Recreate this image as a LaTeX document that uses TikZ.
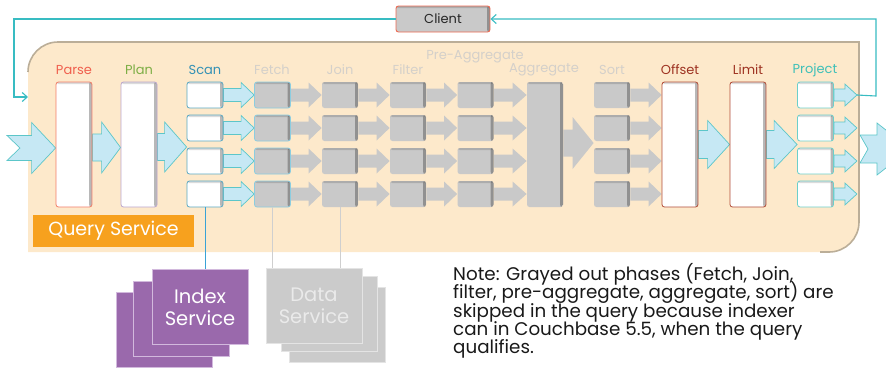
\documentclass[tikz,border=0pt]{standalone}
\usepackage{fontspec}
\setmainfont{Poppins}
\usetikzlibrary{arrows.meta,calc}

\pgfdeclarelayer{panel}
\pgfdeclarelayer{flow}
\pgfsetlayers{panel,flow,main}

\definecolor{panelfill}{HTML}{FDE9CB}
\definecolor{panelshade}{HTML}{BBAE98}
\definecolor{flowfill}{HTML}{C6E8F4}
\definecolor{flowline}{HTML}{5CC6C9}
\definecolor{loopline}{HTML}{38BCC2}
\definecolor{skipfill}{HTML}{C9C9C9}
\definecolor{skiptext}{HTML}{D4D0CA}
\definecolor{parsecol}{HTML}{F0604E}
\definecolor{parseborder}{HTML}{F27C66}
\definecolor{plancol}{HTML}{7DAE45}
\definecolor{planborder}{HTML}{BBA6CC}
\definecolor{scancol}{HTML}{3491B5}
\definecolor{scanborder}{HTML}{5AA8C2}
\definecolor{fetchborder}{HTML}{8CCDE0}
\definecolor{offcol}{HTML}{9E3322}
\definecolor{offborder}{HTML}{B24C36}
\definecolor{projcol}{HTML}{3FC0B8}
\definecolor{projborder}{HTML}{6CCFCB}
\definecolor{qsorange}{HTML}{F7A11E}
\definecolor{idxpurple}{HTML}{9A69AC}
\definecolor{idxedge}{HTML}{D2B9DD}
\definecolor{datafill}{HTML}{CBCBCB}
\definecolor{dataedge}{HTML}{E4E4E4}
\definecolor{datatext}{HTML}{EAEAEA}
\definecolor{clientborder}{HTML}{EC6A52}
\definecolor{idxline}{HTML}{3AA3D6}
\definecolor{dataline}{HTML}{CFCFCF}

% block arrow: [style]{from}{to}{shaft half}{head half}{head length}
\newcommand{\blockarrow}[6][]{%
  \path[#1] let \p1=(#2), \p2=(#3) in
    (\x1,\y1+#4) -- (\x2-#6,\y1+#4) -- (\x2-#6,\y1+#5) -- (\x2,\y1)
    -- (\x2-#6,\y1-#5) -- (\x2-#6,\y1-#4) -- (\x1,\y1-#4) -- cycle;}
% block arrow with a notched tail: extra {notch depth}
\newcommand{\notcharrow}[7][]{%
  \path[#1] let \p1=(#2), \p2=(#3) in
    (\x1,\y1+#4) -- (\x2-#6,\y1+#4) -- (\x2-#6,\y1+#5) -- (\x2,\y1)
    -- (\x2-#6,\y1-#5) -- (\x2-#6,\y1-#4) -- (\x1,\y1-#4) -- (\x1+#7,\y1) -- cycle;}

\begin{document}
\begin{tikzpicture}[x=1pt,y=-1pt,
  inset/.style={path picture={
      \fill[black,opacity=.28] ([xshift=-3pt]path picture bounding box.north east)
        rectangle (path picture bounding box.south east);
      \fill[black,opacity=.14] (path picture bounding box.north west)
        rectangle ([yshift=-2pt]path picture bounding box.north east);}},
  box/.style={rectangle, rounded corners=2.5pt, inner sep=0pt, line width=0.8pt,
      minimum width=36pt, minimum height=26pt, inset},
  tallbox/.style={box, minimum height=125pt},
  livebox/.style={box, fill=white},
  skipbox/.style={box, fill=skipfill},
  lbl/.style={font=\fontsize{13}{15}\selectfont, inner sep=0pt},
  flowarrow/.style={fill=flowfill, draw=flowline, line width=0.7pt, line join=miter},
  skiparrow/.style={fill=skipfill},
  loop/.style={draw=loopline, line width=1.1pt,
      -{Straight Barb[length=5pt,width=9pt,line width=1.1pt]}},
  stackidx/.style={rectangle, fill=idxpurple, draw=idxedge, line width=0.6pt,
      minimum width=96pt, minimum height=75pt, inner sep=0pt},
  stackdata/.style={rectangle, fill=datafill, draw=dataedge, line width=0.6pt,
      minimum width=96pt, minimum height=75pt, inner sep=0pt},
  svctext/.style={font=\fontsize{19.5}{22}\selectfont, align=center}
]
\useasboundingbox (0,0) rectangle (886,368);

% query service panel
\begin{pgfonlayer}{panel}
  \fill[panelfill] (28,252) [rounded corners=30pt] -- (28,42) [sharp corners]
    -- (859,42) [rounded corners=30pt] -- (859,252) [sharp corners] -- cycle;
  \draw[panelshade, line width=1.6pt] (28,72) [rounded corners=30pt] -- (28,42)
    [sharp corners] -- (859,42) [rounded corners=30pt] -- (859,252) [sharp corners] -- (820,252);
\end{pgfonlayer}

% client
\node[rectangle, rounded corners=2.5pt, fill=skipfill, draw=clientborder, line width=0.9pt,
  minimum width=94pt, minimum height=26pt, inset, font=\fontsize{13}{15}\selectfont,
  text=black!85] (client) at (443,19) {Client};

% phase labels
\node[lbl, text=parsecol] (lparse) at (74,70) {Parse};
\node[lbl, text=plancol] (lplan) at (139,70) {Plan};
\node[lbl, text=scancol] (lscan) at (205,70) {Scan};
\node[lbl, text=skiptext] (lfetch) at (272,70) {Fetch};
\node[lbl, text=skiptext] (ljoin) at (340,70) {Join};
\node[lbl, text=skiptext] (lfilter) at (408,70) {Filter};
\node[lbl, text=skiptext] (lpre) at (475,57) {Pre-Aggregate};
\node[lbl, text=skiptext] (lagg) at (544,70) {Aggregate};
\node[lbl, text=skiptext] (lsort) at (612,70) {Sort};
\node[lbl, text=offcol] (loffset) at (680,70) {Offset};
\node[lbl, text=offcol] (llimit) at (748,70) {Limit};
\node[lbl, text=projcol] (lproject) at (815,70) {Project};

% tall phase boxes
\node[tallbox, fill=white, draw=parseborder] (parse) at (74,144.5) {};
\node[tallbox, fill=white, draw=planborder] (plan) at (139,144.5) {};
\node[tallbox, fill=skipfill] (agg) at (545,144.5) {};
\node[tallbox, fill=white, draw=offborder] (off) at (680,144.5) {};
\node[tallbox, fill=white, draw=offborder] (lim) at (748,144.5) {};

% per-row phase boxes
\foreach \i/\y in {1/95,2/128,3/161,4/194}{
  \node[livebox, draw=scanborder] (s\i) at (205,\y) {};
  \node[skipbox, draw=fetchborder] (f\i) at (272.5,\y) {};
  \node[skipbox] (j\i) at (340,\y) {};
  \node[skipbox] (fl\i) at (408,\y) {};
  \node[skipbox] (pa\i) at (475.5,\y) {};
  \node[skipbox] (so\i) at (612,\y) {};
  \node[livebox, draw=projborder] (p\i) at (815.5,\y) {};
}

% query service badge
\node[rectangle, fill=qsorange, minimum width=161pt, minimum height=32pt, inner sep=0pt,
  text=white, font=\fontsize{19}{21}\selectfont] (qs) at (113.5,231) {Query Service};

% data flow arrows
\coordinate (qin) at (7,148);
\coordinate (qtail) at (860,149);
\coordinate (qout) at (910,149);
\begin{pgfonlayer}{flow}
  \notcharrow[flowarrow]{qin}{parse.west}{12.5pt}{25.5pt}{24pt}{13pt}
  \blockarrow[flowarrow]{[yshift=-3pt]parse.east}{plan.west}{13.5pt}{25.5pt}{19pt}
  \blockarrow[flowarrow]{[yshift=-2.5pt]plan.east}{s2.west}{13.5pt}{25pt}{22pt}
  \foreach \i in {1,2,3,4}{
    \blockarrow[flowarrow]{s\i.east}{f\i.west}{6.5pt}{12.5pt}{13pt}
    \blockarrow[skiparrow]{f\i.east}{j\i.west}{6.5pt}{12.5pt}{13pt}
    \blockarrow[skiparrow]{j\i.east}{fl\i.west}{6.5pt}{12.5pt}{13pt}
    \blockarrow[skiparrow]{fl\i.east}{pa\i.west}{6.5pt}{12.5pt}{13pt}
    \blockarrow[skiparrow]{pa\i.east}{agg.west}{6.5pt}{12.5pt}{14pt}
    \blockarrow[skiparrow]{so\i.east}{off.west}{6.5pt}{12.5pt}{13pt}
    \blockarrow[flowarrow]{p\i.east}{[xshift=23pt]p\i.east}{6pt}{11pt}{12pt}
  }
  \blockarrow[skiparrow]{[yshift=1.5pt]agg.east}{so2.west}{13.5pt}{26pt}{21pt}
  \blockarrow[flowarrow]{off.east}{lim.west}{14pt}{24pt}{22pt}
  \blockarrow[flowarrow]{lim.east}{p2.west}{14pt}{24pt}{23pt}
  \notcharrow[flowarrow]{qtail}{qout}{14pt}{26pt}{33pt}{8pt}
\end{pgfonlayer}

% result loop back to the client
\coordinate (lcorner) at (14,97);
\coordinate (qentry) at (28,97);
\coordinate (rturn) at (876,96);
\draw[loop] (client.west) -| (lcorner) -- (qentry);
\draw[loop] ([xshift=23pt]p1.east) -- (rturn) |- (client.east);

% index service stack
\node[stackidx] (idx3) at (164,330) {};
\node[stackidx] (idx2) at (181,319) {};
\node[stackidx, text=white, svctext] (idx) at (200,307) {Index\\Service};

% data service stack
\node[stackdata] (dat3) at (337,324.5) {};
\node[stackdata] (dat2) at (329,314) {};
\node[stackdata, text=datatext, svctext] (dat) at (314,305.5) {Data\\Service};

% service connections
\draw[idxline, line width=1pt] (s4.south) -- (s4.south |- idx.north);
\draw[dataline, line width=1pt] (f4.south) -- (f4.south |- dat.north);
\draw[dataline, line width=1pt] (j4.south) -- (j4.south |- dat.north);

% note
\node[anchor=north west, align=left, inner sep=0pt, text=black!90,
  font={\fontsize{18.3}{18.4}\selectfont\lineskiplimit=-30pt}] (note) at (453,263)
  {Note: Grayed out phases (Fetch, Join,\\
   filter, pre-aggregate, aggregate, sort) are\\
   skipped in the query because indexer\\
   can in Couchbase 5.5, when the query\\
   qualifies.};
\end{tikzpicture}
\end{document}
